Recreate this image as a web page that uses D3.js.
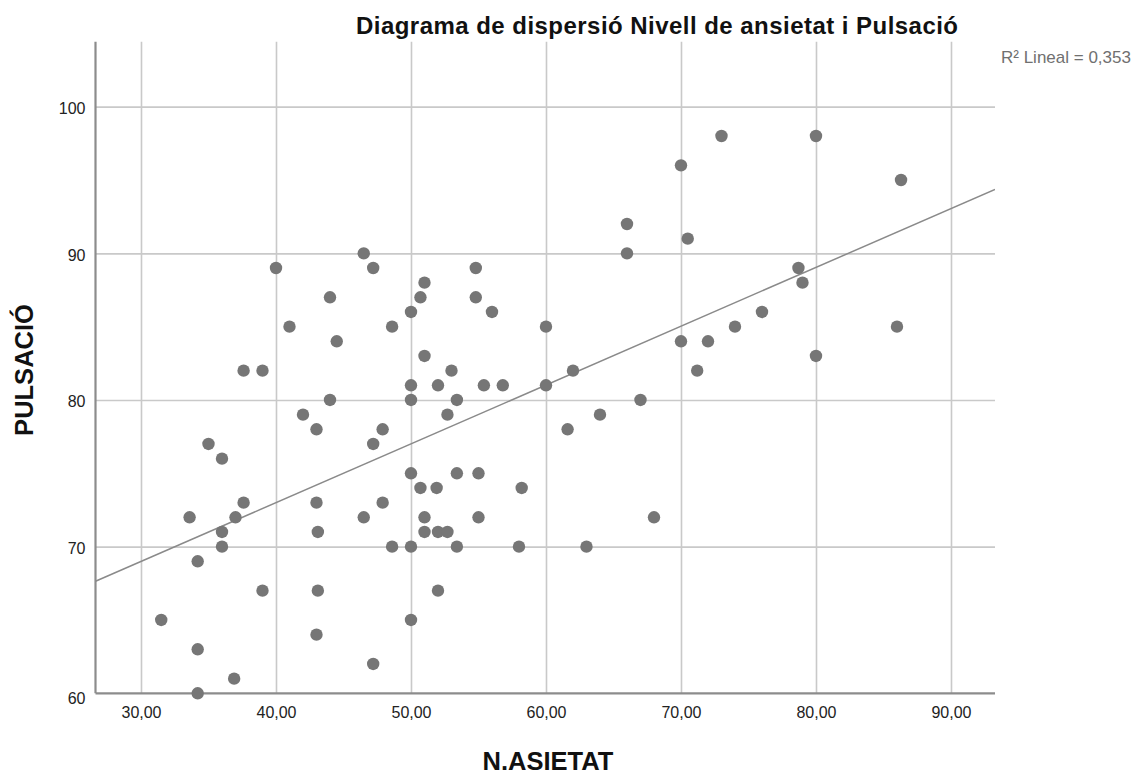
<!DOCTYPE html>
<html>
<head>
<meta charset="utf-8">
<script src="https://cdn.jsdelivr.net/npm/d3@7"></script>
<style>
  html, body { margin: 0; padding: 0; background: #ffffff; }
  svg { display: block; font-family: "Liberation Sans", Arial, sans-serif; }
</style>
</head>
<body>
<svg id="chart" width="1140" height="774"></svg>
<script>
// Anxiety level (N.ASIETAT) and pulse (PULSACIÓ) for each subject
const anxiety = [
  31.5, 33.6, 34.2, 34.2, 34.2, 35.0, 36.0, 36.0, 36.0, 36.9,
  37.0, 37.6, 37.6, 39.0, 39.0, 40.0, 41.0, 42.0, 43.0, 43.0,
  43.1, 43.1, 43.0, 44.0, 44.0, 44.5, 46.5, 46.5, 47.2, 47.2,
  47.2, 47.9, 47.9, 48.6, 48.6, 50.0, 50.0, 50.0, 50.0, 50.0,
  50.0, 50.7, 50.7, 51.0, 51.0, 51.0, 51.0, 51.9, 52.0, 52.0,
  52.0, 52.7, 52.7, 53.0, 53.4, 53.4, 53.4, 54.8, 54.8, 55.0,
  55.0, 55.4, 56.0, 56.8, 58.0, 58.2, 60.0, 60.0, 61.6, 62.0,
  63.0, 64.0, 66.0, 66.0, 67.0, 68.0, 70.0, 70.0, 70.5, 71.2,
  72.0, 73.0, 74.0, 76.0, 78.7, 79.0, 80.0, 80.0, 86.3, 86.0
];
const pulse = [
  65, 72, 69, 63, 60, 77, 76, 71, 70, 61,
  72, 82, 73, 82, 67, 89, 85, 79, 78, 73,
  71, 67, 64, 87, 80, 84, 90, 72, 89, 77,
  62, 78, 73, 85, 70, 86, 81, 80, 75, 70,
  65, 87, 74, 88, 83, 72, 71, 74, 81, 71,
  67, 79, 71, 82, 80, 75, 70, 89, 87, 75,
  72, 81, 86, 81, 70, 74, 85, 81, 78, 82,
  70, 79, 92, 90, 80, 72, 96, 84, 91, 82,
  84, 98, 85, 86, 89, 88, 98, 83, 95, 85
];

// Linear fit (PULSACIÓ = intercept + slope * N.ASIETAT)
const fitIntercept = 56.96;
const fitSlope = 0.401;

const xTicks = [30, 40, 50, 60, 70, 80, 90];
const yTicks = [60, 70, 80, 90, 100];
const xDomain = [26.63, 93.26];
const yDomain = [60, 104.43];

const titleText = "Diagrama de dispersió Nivell de ansietat i Pulsació";
const xLabelText = "N.ASIETAT";
const yLabelText = "PULSACIÓ";
const fitLabelText = "R² Lineal = 0,353";

const points = anxiety.map((a, i) => ({ x: a, y: pulse[i] }));

const svg = d3.select("#chart");
const plot = { left: 95.5, right: 995, top: 41.7, bottom: 693.3 };

const x = d3.scaleLinear().domain(xDomain).range([plot.left, plot.right]);
const y = d3.scaleLinear().domain(yDomain).range([plot.bottom, plot.top]);

const fmtX = v => d3.format(".2f")(v).replace(".", ",");

svg.append("rect").attr("width", 1140).attr("height", 774).attr("fill", "#ffffff");

svg.append("defs").append("clipPath").attr("id", "plot-clip")
  .append("rect")
  .attr("x", plot.left).attr("y", plot.top)
  .attr("width", plot.right - plot.left).attr("height", plot.bottom - plot.top);

// Grid lines
const grid = svg.append("g").attr("class", "grid");
grid.append("g")
  .attr("transform", `translate(0,${plot.bottom})`)
  .call(d3.axisBottom(x).tickValues(xTicks).tickSize(-(plot.bottom - plot.top)).tickFormat(""))
  .call(g => g.select(".domain").remove())
  .call(g => g.selectAll("line").attr("stroke", "#c9c9c9").attr("stroke-width", 1.6));
grid.append("g")
  .attr("transform", `translate(${plot.left},0)`)
  .call(d3.axisLeft(y).tickValues(yTicks.filter(v => v > 60)).tickSize(-(plot.right - plot.left)).tickFormat(""))
  .call(g => g.select(".domain").remove())
  .call(g => g.selectAll("line").attr("stroke", "#c9c9c9").attr("stroke-width", 1.6));

// Axis lines and tick labels
const xAxis = svg.append("g")
  .attr("transform", `translate(0,${plot.bottom})`)
  .call(d3.axisBottom(x).tickValues(xTicks).tickSize(0).tickPadding(13).tickFormat(fmtX));
xAxis.select(".domain").attr("stroke", "#8c8c8c").attr("stroke-width", 2.2)
  .attr("d", `M${plot.left},0H${plot.right}`);
xAxis.selectAll("text").attr("font-size", 16).attr("fill", "#222").attr("font-family", null);

const yAxis = svg.append("g")
  .attr("transform", `translate(${plot.left},0)`)
  .call(d3.axisLeft(y).tickValues(yTicks).tickSize(0).tickPadding(10));
yAxis.select(".domain").attr("stroke", "#8c8c8c").attr("stroke-width", 2.2)
  .attr("d", `M0,${plot.top}V${plot.bottom}`);
yAxis.selectAll("text").attr("font-size", 16).attr("fill", "#222").attr("font-family", null)
  .attr("dy", d => d === 60 ? "0.62em" : "0.42em");

// Fit line across the whole plot
svg.append("line")
  .attr("clip-path", "url(#plot-clip)")
  .attr("x1", x(xDomain[0])).attr("y1", y(fitIntercept + fitSlope * xDomain[0]))
  .attr("x2", x(xDomain[1])).attr("y2", y(fitIntercept + fitSlope * xDomain[1]))
  .attr("stroke", "#8a8a8a").attr("stroke-width", 1.5);

// Points
svg.append("g")
  .selectAll("circle")
  .data(points)
  .join("circle")
  .attr("cx", d => x(d.x))
  .attr("cy", d => y(d.y))
  .attr("r", 6.2)
  .attr("fill", "#767676");

// Titles and labels
svg.append("text")
  .attr("x", 657).attr("y", 34)
  .attr("text-anchor", "middle")
  .attr("font-size", 24).attr("font-weight", "bold").attr("fill", "#111")
  .attr("textLength", 602).attr("lengthAdjust", "spacing")
  .text(titleText);

svg.append("text")
  .attr("x", 548).attr("y", 770)
  .attr("text-anchor", "middle")
  .attr("font-size", 25.5).attr("font-weight", "bold").attr("fill", "#111")
  .text(xLabelText);

svg.append("text")
  .attr("transform", "translate(33,370) rotate(-90)")
  .attr("text-anchor", "middle")
  .attr("font-size", 25.5).attr("font-weight", "bold").attr("fill", "#111")
  .text(yLabelText);

svg.append("text")
  .attr("x", 1001).attr("y", 63)
  .attr("font-size", 17).attr("fill", "#707070")
  .text(fitLabelText);
</script>
</body>
</html>
